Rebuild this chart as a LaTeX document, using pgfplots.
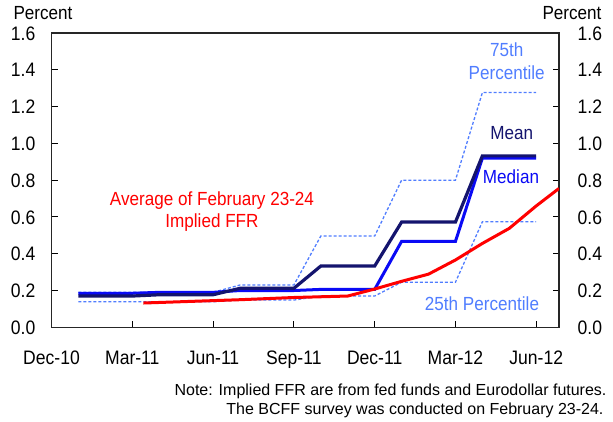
\documentclass[border=0pt]{standalone}
\usepackage{fontspec}
\setmainfont{Liberation Sans}[FakeStretch=0.9]
\newfontfamily\notefont{Liberation Sans}
\usepackage{pgfplots}
\pgfplotsset{compat=1.18}
\definecolor{navy}{RGB}{20,20,110}
\definecolor{medblue}{RGB}{10,10,245}
\definecolor{pctblue}{RGB}{80,125,255}
\definecolor{ffrred}{RGB}{255,0,0}
\begin{document}
\begin{tikzpicture}
\useasboundingbox (0pt,0pt) rectangle (613pt,421pt);
\begin{axis}[
  at={(51.5pt,93.7pt)}, anchor=south west,
  width=507.5pt, height=294.3pt, scale only axis,
  xmin=0, xmax=18.845, ymin=0, ymax=1.6,
  xtick={0,3,6,9,12,15,18},
  xticklabels={Dec-10,Mar-11,Jun-11,Sep-11,Dec-11,Mar-12,Jun-12},
  ytick={0,0.2,0.4,0.6,0.8,1.0,1.2,1.4,1.6},
  tick align=inside, major tick length=6pt,
  xtick pos=bottom, ytick pos=both, yticklabel pos=left,
  tick style={black, line width=1pt},
  axis line style={black!85, line width=1.3pt},
  /pgf/number format/fixed, /pgf/number format/fixed zerofill,
  /pgf/number format/precision=1, /pgf/number format/assume math mode=true,
  ticklabel style={font=\fontsize{19.5}{21}\selectfont},
  xticklabel style={anchor=base, yshift=-37pt},
  yticklabel style={inner sep=0.5pt, xshift=-15.5pt, yshift=-0.5pt},
]
\addplot[pctblue, line width=1.3pt, dash pattern=on 3pt off 2pt] coordinates {(1,0.139)(3,0.139)(4,0.139)(6,0.139)(7,0.148)(9,0.148)(10,0.17)(12,0.17)(13,0.245)(15,0.245)(16,0.574)(18,0.574)};
\addplot[pctblue, line width=1.3pt, dash pattern=on 3pt off 2pt] coordinates {(1,0.19)(3,0.19)(4,0.19)(6,0.19)(7,0.23)(9,0.23)(10,0.496)(12,0.496)(13,0.8)(15,0.8)(16,1.276)(18,1.276)};
\addplot[medblue, line width=3pt] coordinates {(1,0.185)(3,0.185)(4,0.19)(6,0.19)(7,0.2)(9,0.2)(10,0.206)(12,0.206)(13,0.467)(15,0.467)(16,0.92)(18,0.92)};
\addplot[navy, line width=3.2pt] coordinates {(1,0.17)(3,0.17)(4,0.177)(6,0.177)(7,0.212)(9,0.212)(10,0.333)(12,0.333)(13,0.572)(15,0.572)(16,0.932)(18,0.932)};
\addplot[ffrred, line width=3pt] coordinates {(3.41,0.132)(5,0.14)(7,0.15)(9,0.162)(11,0.17)(12,0.208)(13,0.25)(14,0.289)(15,0.366)(16,0.456)(17,0.538)(18,0.66)(18.845,0.755)};
\end{axis}
\begin{axis}[
  at={(51.5pt,93.7pt)}, anchor=south west,
  width=507.5pt, height=294.3pt, scale only axis,
  xmin=0, xmax=18.845, ymin=0, ymax=1.6,
  hide x axis, axis y line*=right,
  axis line style={draw=none}, tick style={draw=none},
  ytick={0,0.2,0.4,0.6,0.8,1.0,1.2,1.4,1.6},
  /pgf/number format/fixed, /pgf/number format/fixed zerofill,
  /pgf/number format/precision=1, /pgf/number format/assume math mode=true,
  yticklabel style={font=\fontsize{19.5}{21}\selectfont, inner sep=0.5pt, xshift=18pt, yshift=-0.5pt},
]
\addplot[draw=none] coordinates {(1,0)};
\end{axis}
\begin{scope}[font=\fontsize{19}{21}\selectfont]
\node[anchor=base, inner sep=0pt] at (43pt,401.5pt) {Percent};
\node[anchor=base, inner sep=0pt] at (572pt,401.5pt) {Percent};
\node[anchor=base, text=pctblue] at (506.7pt,364.3pt) {75th};
\node[anchor=base, text=pctblue] at (506.7pt,341pt) {Percentile};
\node[anchor=base, text=navy] at (511.7pt,281.7pt) {Mean};
\node[anchor=base, text=medblue] at (511pt,237pt) {Median};
\node[anchor=base, text=pctblue] at (482pt,111pt) {25th Percentile};
\node[anchor=base, text=ffrred] at (212pt,215.3pt) {Average of February 23-24};
\node[anchor=base, text=ffrred] at (212pt,193.5pt) {Implied FFR};
\end{scope}
\begin{scope}[font=\notefont\fontsize{16}{18}\selectfont]
\node[anchor=base east] at (610pt,26pt) {Note: Implied FFR are from fed funds and Eurodollar futures.};
\node[anchor=base east] at (607pt,7pt) {The BCFF survey was conducted on February 23-24.};
\end{scope}
\end{tikzpicture}
\end{document}
